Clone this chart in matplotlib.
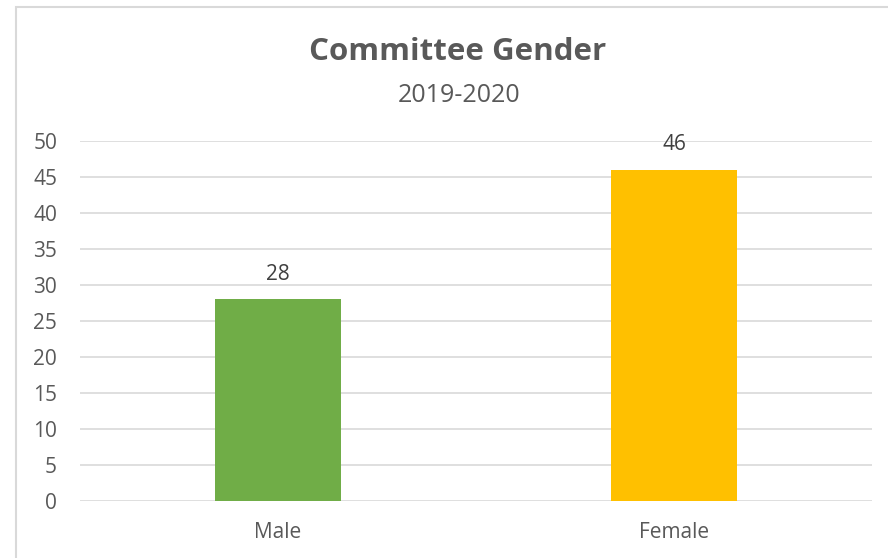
import matplotlib.pyplot as plt
from matplotlib.patches import Rectangle

categories = ["Male", "Female"]
values = [28, 46]
colors = ["#70AD47", "#FFC000"]
yticks = list(range(0, 55, 5))

W, H = 888, 558
plt.rcParams['font.family'] = ['Open Sans', 'DejaVu Sans']

fig = plt.figure(figsize=(W / 100, H / 100), dpi=100)

# outer chart border (runs off the right/bottom edge like the screenshot)
fig.patches.append(Rectangle((16 / W, 0 - 0.05), 1.1, (H - 7) / H + 0.05,
                             transform=fig.transFigure, fill=False,
                             edgecolor="#d9d9d9", linewidth=1.5))

ax = fig.add_axes([80 / W, (H - 501) / H, (872 - 80) / W, (501 - 141) / H])
x = range(len(categories))
bars = ax.bar(x, values, width=0.316, color=colors, zorder=3)
for xi, v in zip(x, values):
    ax.text(xi, v + 3.5, str(v), ha="center", va="center",
            fontsize=15, color="#404040")

ax.set_xlim(-0.5, 1.5)
ax.set_ylim(0, 50)
ax.set_yticks(yticks)
ax.set_xticks(list(x))
ax.set_xticklabels(categories)
ax.grid(axis="y", color="#d9d9d9", linewidth=1.2, zorder=0)
for s in ax.spines.values():
    s.set_visible(False)
ax.tick_params(length=0, labelsize=15, labelcolor="#595959")
ax.tick_params(axis="y", pad=16.5)
ax.tick_params(axis="x", pad=15)

fig.text(458 / W, 1 - 52 / H, "Committee Gender", ha="center", va="center",
         fontsize=22.5, fontweight="bold", color="#595959")
fig.text(459 / W, 1 - 95 / H, "2019-2020", ha="center", va="center",
         fontsize=18, color="#595959")

fig.savefig("out.png", dpi=100)
